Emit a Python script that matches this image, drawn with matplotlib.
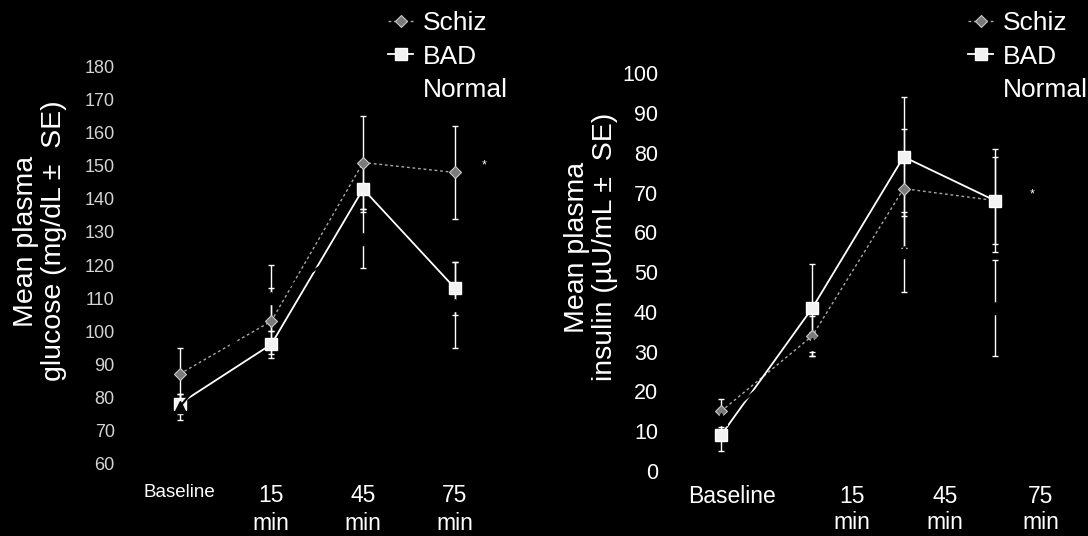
import matplotlib

matplotlib.use("Agg")
import matplotlib.pyplot as plt  # noqa: E402

plt.rcParams["font.family"] = ["Liberation Sans", "DejaVu Sans"]

# ---------------------------------------------------------------- data
TIMES = ["Baseline", "15\nmin", "45\nmin", "75\nmin"]
GROUPS = ["Schiz", "BAD", "Normal"]

schiz_glu = [87, 103, 151, 148]
schiz_glu_se = [8, 10, 14, 14]
bad_glu = [78, 96, 143, 113]
bad_glu_se = [3, 4, 7, 8]
normal_glu = [77, 110, 128, 108]
normal_glu_se = [4, 10, 9, 13]

schiz_ins = [15, 34, 71, 68]
schiz_ins_se = [3, 5, 15, 11]
bad_ins = [9, 41, 79, 68]
bad_ins_se = [4, 11, 15, 13]
normal_ins = [13, 32, 55, 41]
normal_ins_se = [2, 3, 10, 12]

GLU_TICKS = list(range(60, 181, 10))
INS_TICKS = list(range(0, 101, 10))

W, H = 1088, 536
BG = "black"
GREY = "#a8a8a8"


def px_axes(fig, x0, x1, y_top, y_bot):
    return fig.add_axes([x0 / W, 1 - y_bot / H, (x1 - x0) / W, (y_bot - y_top) / H])


def draw_series(ax, y, se, style):
    x = range(len(y))
    ax.errorbar(x, y, yerr=se, fmt="none", ecolor="white", elinewidth=1.0,
                capsize=2.5, capthick=1.0, zorder=2)
    ax.plot(x, y, **style)


def panel(ax, series, ylim, yticks, ytick_fs, ytick_col, ypad, xpad, xtick_pos, xls):
    ax.set_facecolor(BG)
    schiz, bad, normal = series
    draw_series(ax, *schiz, dict(color=GREY, ls=(0, (2, 2)), lw=1.0, marker="D", ms=6.5,
                                 mfc="#7a7a7a", mec="#c8c8c8", mew=0.8, zorder=3, label="Schiz"))
    draw_series(ax, *bad, dict(color="white", ls="-", lw=1.3, marker="s", ms=9,
                               mfc="#f2f2f2", mec="white", zorder=4, label="BAD"))
    # Normal is drawn in black on black: only the gaps it cuts into the error bars show
    draw_series(ax, *normal, dict(color="black", ls="-", lw=1.5, marker="^", ms=8,
                                  mfc="black", mec="black", zorder=5, label="Normal"))
    ax.set_xlim(-0.5, 3.5)
    ax.set_ylim(*ylim)
    ax.set_yticks(yticks)
    ax.set_xticks(xtick_pos)
    ax.set_xticklabels(TIMES, linespacing=xls)
    ax.tick_params(axis="y", length=0, pad=ypad, labelsize=ytick_fs, labelcolor=ytick_col)
    ax.tick_params(axis="x", length=0, pad=xpad, labelsize=16.5, labelcolor="white")
    for s in ax.spines.values():
        s.set_visible(False)


def legend(ax, x_px):
    ax.legend(loc="upper left", bbox_to_anchor=(x_px / W, 1 - 11 / H),
              bbox_transform=fig.transFigure, frameon=False, borderpad=0, borderaxespad=0,
              handlelength=0.96, handletextpad=0.35, labelspacing=0.36, fontsize=19,
              labelcolor="white")


fig = plt.figure(figsize=(W / 100, H / 100), dpi=100, facecolor=BG)

# ---------------------------------------------------------------- left: glucose
ax1 = px_axes(fig, 133.6, 500.8, 66.7, 463.3)
panel(ax1,
      [(schiz_glu, schiz_glu_se), (bad_glu, bad_glu_se), (normal_glu, normal_glu_se)],
      (60, 180), GLU_TICKS, 13, "#d4d4d4", 13.5, 15, [0, 1, 2, 3], 1.25)
ax1.get_xticklabels()[0].set_fontsize(13.5)
ax1.text(3.32, 150, "*", color="white", fontsize=9, ha="center", va="center")
fig.text(40 / W, 1 - 241 / H, "Mean plasma\nglucose (mg/dL \u00b1  SE)", rotation=90,
         color="white", fontsize=20.5, ha="center", va="center", linespacing=1.1)
legend(ax1, 388)

# ---------------------------------------------------------------- right: insulin
ax2 = px_axes(fig, 675.4, 1040.6, 73.3, 471)
panel(ax2,
      [(schiz_ins, schiz_ins_se), (bad_ins, bad_ins_se), (normal_ins, normal_ins_se)],
      (0, 100), INS_TICKS, 15.5, "white", 12.5, 10, [0.115, 1.43, 2.45, 3.5], 1.15)
ax2.text(3.41, 69.5, "*", color="white", fontsize=9, ha="center", va="center")
fig.text(591 / W, 1 - 247 / H, "Mean plasma\ninsulin (\u00b5U/mL \u00b1  SE)", rotation=90,
         color="white", fontsize=20.5, ha="center", va="center", linespacing=1.1)
legend(ax2, 968)

fig.savefig("out.png", dpi=100, facecolor=BG)
